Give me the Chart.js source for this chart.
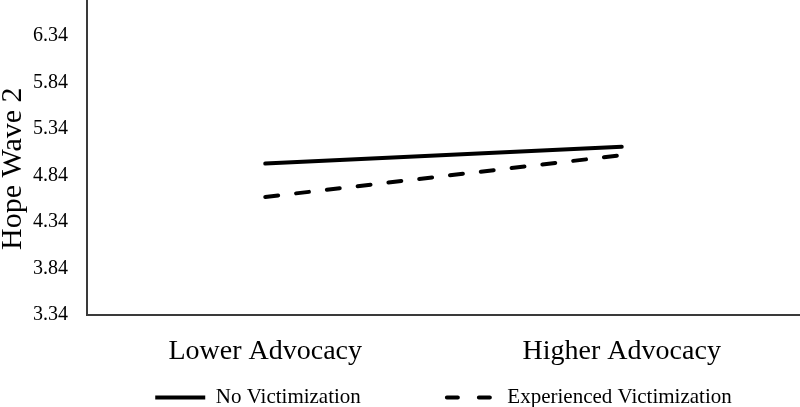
<!DOCTYPE html>
<html lang="en">
<head>
    <meta charset="UTF-8">
    <title>Hope Wave 2</title>
    <style>
        html, body { margin: 0; padding: 0; background: #fff; }
        #wrap { width: 800px; height: 407px; }
    </style>
</head>
<body>
    <div id="wrap">
        <canvas id="grafico"></canvas>
    </div>

    <script src="https://cdn.jsdelivr.net/npm/chart.js"></script>

<script>
  // data
  const categorias = ["Lower Advocacy", "Higher Advocacy"]
  const semVitimizacao = [4.97, 5.15]
  const comVitimizacao = [4.61, 5.06]
  const ticksY = [3.34, 3.84, 4.34, 4.84, 5.34, 5.84, 6.34]
  const tickLabels = ["3.34", "3.84", "4.34", "4.84", "5.34", "5.84", "6.34"]

  const fonte = "'Liberation Serif', 'Times New Roman', serif"
  const corEixo = '#3a3a3a'

  const ctx = document.getElementById('grafico')

  const grafico = new Chart(ctx, {
    type: 'line',
    data: {
      labels: categorias,
      datasets: [{
        label: 'No Victimization',
        data: semVitimizacao,
        borderColor: '#000',
        backgroundColor: 'transparent',
        borderWidth: 4,
        borderCapStyle: 'round',
        pointRadius: 0,
        fill: false
      }, {
        label: 'Experienced Victimization',
        data: comVitimizacao,
        borderColor: '#000',
        backgroundColor: 'transparent',
        borderWidth: 4,
        borderDash: [13, 18],
        borderCapStyle: 'round',
        pointRadius: 0,
        fill: false
      }]
    },
    options: {
      responsive: true,
      maintainAspectRatio: false,
      animation: false,
      layout: { padding: { left: 0, right: 0, top: 0, bottom: -11 } },
      plugins: {
        tooltip: { enabled: false },
        legend: {
          position: 'bottom',
          fullSize: false,
          labels: {
            boxWidth: 50,
            boxHeight: 0,
            padding: 2,
            color: '#000',
            font: { family: fonte, size: 21 },
            generateLabels: (chart) => {
              const itens = Chart.defaults.plugins.legend.labels.generateLabels(chart)
              // gap between the two legend entries
              itens[0].text = itens[0].text + '\u2003\u2003\u2003\u2003'
              // the box is a flat rectangle, stroked out and back: two short dashes
              itens[1].lineDash = [11, 21, 11, 57]
              return itens
            }
          }
        }
      },
      scales: {
        x: {
          offset: true,
          grid: { display: false, drawTicks: false },
          border: { display: true, color: corEixo, width: 2 },
          ticks: {
            color: '#000',
            padding: 20,
            font: { family: fonte, size: 28 }
          },
          afterFit: (scale) => {
            scale.height = 70
            scale.paddingLeft = 0
            scale.paddingRight = 0
          }
        },
        y: {
          min: 3.34,
          max: 6.73,
          grid: { display: false, drawTicks: false },
          border: { display: true, color: corEixo, width: 2 },
          afterBuildTicks: (scale) => {
            scale.ticks = ticksY.map(v => ({ value: v }))
          },
          ticks: {
            color: '#000',
            padding: 19,
            font: { family: fonte, size: 20 },
            callback: (valor, i) => tickLabels[i]
          },
          title: {
            display: true,
            // trailing space nudges the title a little lower, as in the reference
            text: 'Hope Wave 2\u2002 ',
            color: '#000',
            padding: { top: -2, bottom: 0 },
            font: { family: fonte, size: 30, lineHeight: 1 }
          },
          afterFit: (scale) => {
            scale.width = 87
            scale.paddingTop = 0
            scale.paddingBottom = 0
          }
        }
      }
    }
  })
</script>

</body>
</html>
